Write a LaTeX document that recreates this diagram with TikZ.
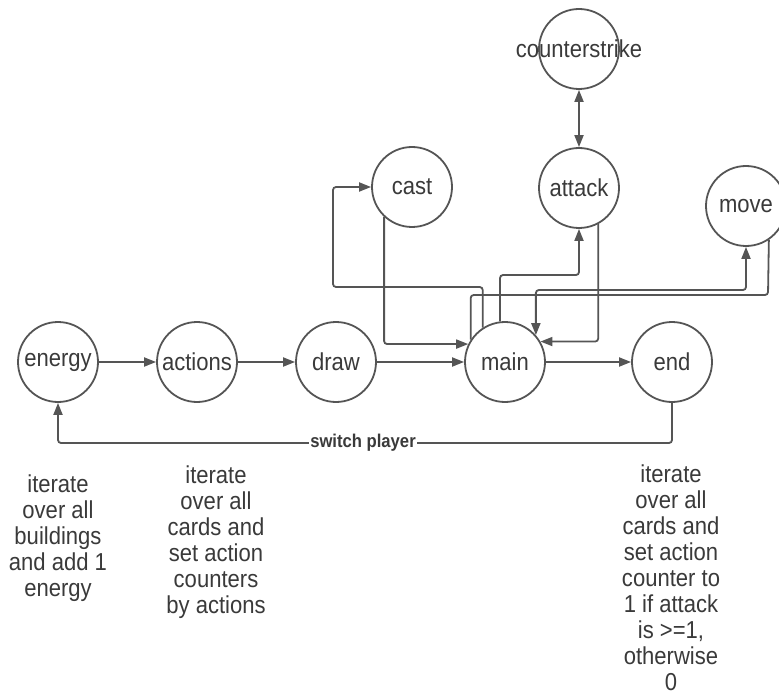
\documentclass[tikz,border=0pt]{standalone}
\usepackage{fontspec}
\setmainfont{Liberation Sans}[FakeStretch=0.9]
\usetikzlibrary{arrows.meta}
\definecolor{ln}{HTML}{555555}
\definecolor{tx}{HTML}{3A3A3A}
\begin{document}
\begin{tikzpicture}[x=1pt,y=-1pt,
  state/.style={circle,draw=ln,line width=1.8pt,minimum size=80pt,inner sep=0pt,
    text=tx,font=\fontsize{24.5}{26}\selectfont},
  conn/.style={draw=ln,line width=1.8pt,rounded corners=3pt,
    -{Triangle[length=12pt,width=9pt]}},
  both/.style={draw=ln,line width=1.8pt,rounded corners=3pt,
    {Triangle[length=12pt,width=9pt]}-{Triangle[length=12pt,width=9pt]}},
  plain/.style={draw=ln,line width=1.8pt,rounded corners=3pt},
  note/.style={align=center,inner sep=0pt,text=tx,font=\fontsize{24.5}{26}\selectfont},
  lbl/.style={fill=white,inner sep=1pt,text=tx,font=\fontsize{18.5}{20}\selectfont\bfseries}]
\useasboundingbox (0,0) rectangle (779,695);
\fill[white] (0,0) rectangle (779,695);

\node[state] (energy) at (58,362) {\makebox[0pt]{energy}};
\node[state] (actions) at (197,362) {\makebox[0pt]{actions}};
\node[state] (drw) at (336,362) {draw};
\node[state] (main) at (505,362) {main};
\node[state] (endn) at (672,362) {end};
\node[state] (cast) at (412,187) {cast};
\node[state] (attack) at (579,188) {attack};
\node[state] (counter) at (579,49) {\makebox[0pt]{counterstrike}};
\node[state] (move) at (746,206) {move};

\draw[conn] (energy) -- (actions);
\draw[conn] (actions) -- (drw);
\draw[conn] (drw) -- (main);
\draw[conn] (main) -- (endn);
\draw[conn] (endn.south) -- (endn.south |- 0,443) -| (energy.south);
\node[lbl] (sw) at (363,443) {switch player};

\draw[conn] (cast.227) |- (main.154);
\draw[conn] (main.123) |- (333,287) |- (cast.west);
\draw[conn] (main.97) |- (579,275) -- (attack.south);
\draw[conn] (attack.298) |- (main.30);
\draw[both] (main.41) |- (746,290) -- (move.south);
\draw[plain] (main.147) |- (768,295) -- (move.304);
\draw[both] (counter.south) -- (attack.north);

\node[note,anchor=north] (n1) at (58,475) {iterate\\over all\\buildings\\and add 1\\energy};
\node[note,anchor=north] (n2) at (216,466) {iterate\\over all\\cards and\\set action\\counters\\by actions};
\node[note,anchor=north] (n3) at (671,465) {iterate\\over all\\cards and\\set action\\counter to\\1 if attack\\is >=1,\\otherwise\\0};
\end{tikzpicture}
\end{document}
